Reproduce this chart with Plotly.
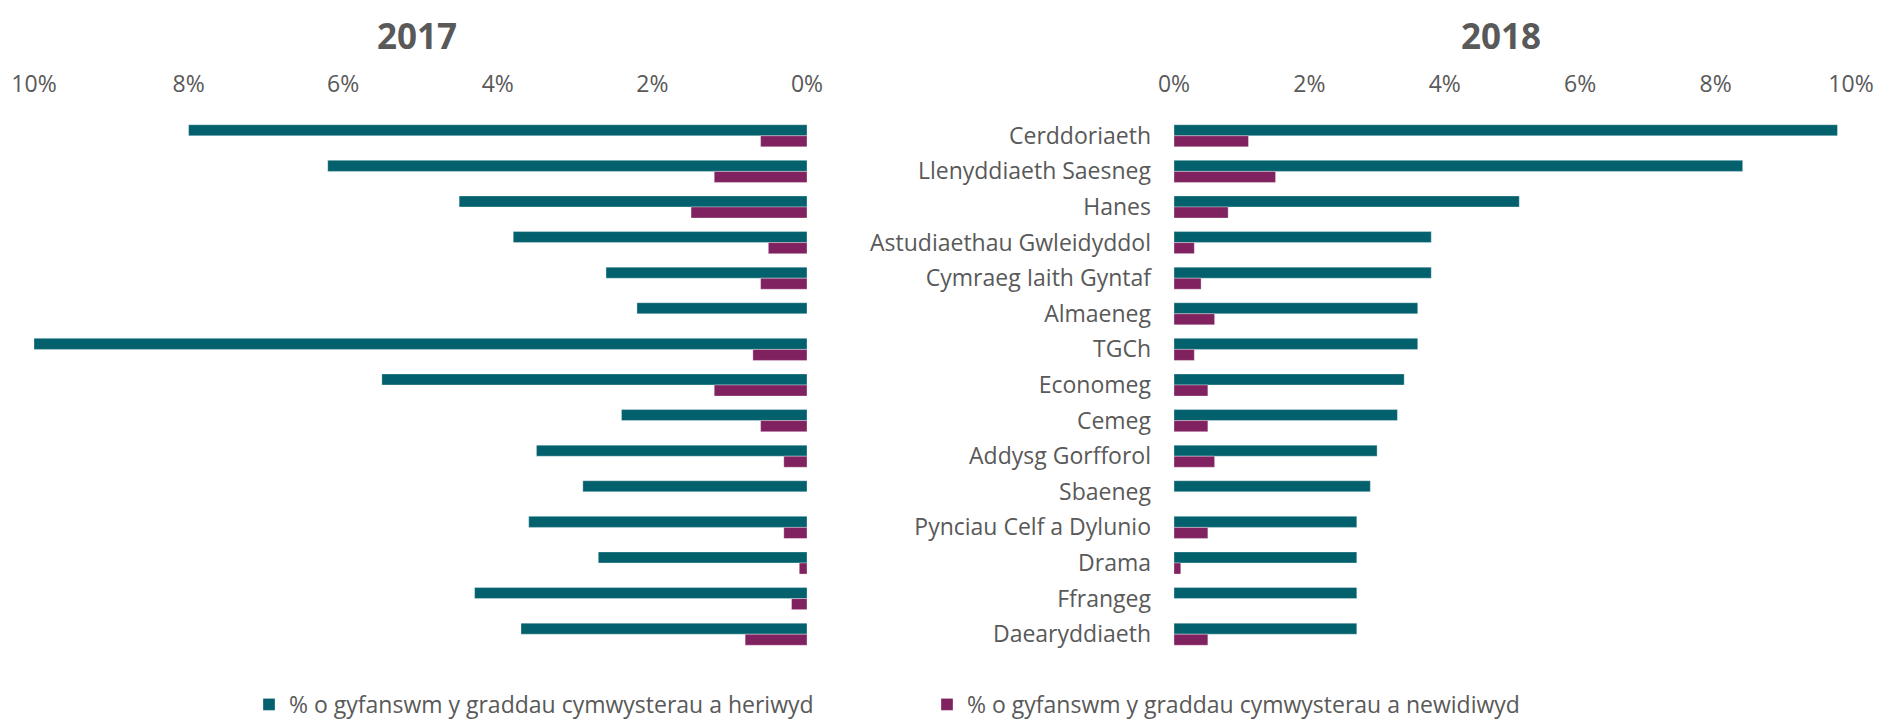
import plotly.graph_objects as go
from plotly.subplots import make_subplots

categories = ["Cerddoriaeth", "Llenyddiaeth Saesneg", "Hanes", "Astudiaethau Gwleidyddol",
              "Cymraeg Iaith Gyntaf", "Almaeneg", "TGCh", "Economeg", "Cemeg",
              "Addysg Gorfforol", "Sbaeneg", "Pynciau Celf a Dylunio", "Drama",
              "Ffrangeg", "Daearyddiaeth"]

challenged_2017 = [8.0, 6.2, 4.5, 3.8, 2.6, 2.2, 10.0, 5.5, 2.4, 3.5, 2.9, 3.6, 2.7, 4.3, 3.7]
changed_2017 = [0.6, 1.2, 1.5, 0.5, 0.6, 0.0, 0.7, 1.2, 0.6, 0.3, 0.0, 0.3, 0.1, 0.2, 0.8]

challenged_2018 = [9.8, 8.4, 5.1, 3.8, 3.8, 3.6, 3.6, 3.4, 3.3, 3.0, 2.9, 2.7, 2.7, 2.7, 2.7]
changed_2018 = [1.1, 1.5, 0.8, 0.3, 0.4, 0.6, 0.3, 0.5, 0.5, 0.6, 0.0, 0.5, 0.1, 0.0, 0.5]

series_names = ["% o gyfanswm y graddau cymwysterau a heriwyd",
                "% o gyfanswm y graddau cymwysterau a newidiwyd"]
titles = ["2017", "2018"]
tick_vals = [0, 2, 4, 6, 8, 10]
tick_text = ["0%", "2%", "4%", "6%", "8%", "10%"]

TEAL = "#03616E"
PURPLE = "#80225F"
GREY = "#595959"
FONT = "Open Sans"

# page body has an 8px margin; figure is sized to fill the rest of the window
W, H = 1889, 715

fig = make_subplots(rows=1, cols=2, horizontal_spacing=0.05)

line = dict(color="rgba(255,255,255,0.55)", width=0.6)
fig.add_trace(go.Bar(y=categories, x=challenged_2017, orientation="h", marker_color=TEAL,
                     marker_line=line, name=series_names[0], legendgroup="a",
                     showlegend=True), row=1, col=1)
fig.add_trace(go.Bar(y=categories, x=changed_2017, orientation="h", marker_color=PURPLE,
                     marker_line=line, name=series_names[1], legendgroup="b",
                     showlegend=True), row=1, col=1)
fig.add_trace(go.Bar(y=categories, x=challenged_2018, orientation="h", marker_color=TEAL,
                     marker_line=line, name=series_names[0], legendgroup="a",
                     showlegend=False), row=1, col=2)
fig.add_trace(go.Bar(y=categories, x=changed_2018, orientation="h", marker_color=PURPLE,
                     marker_line=line, name=series_names[1], legendgroup="b",
                     showlegend=False), row=1, col=2)

left_dom = [26 / W, 799 / W]
right_dom = [1166 / W, 1843 / W]

axis_common = dict(tickvals=tick_vals, ticktext=tick_text, side="top", showgrid=False,
                   zeroline=False, showline=False, ticks="", ticklabelstandoff=20,
                   automargin=False,
                   tickfont=dict(family=FONT, size=23, color=GREY))
fig.update_xaxes(range=[10, 0], domain=left_dom, row=1, col=1, **axis_common)
fig.update_xaxes(range=[0, 10], domain=right_dom, row=1, col=2, **axis_common)

fig.update_yaxes(autorange="reversed", showgrid=False, zeroline=False, showline=False,
                 ticks="", automargin=False)
fig.update_yaxes(showticklabels=False, row=1, col=1)
fig.update_yaxes(showticklabels=True, ticklabelstandoff=22,
                 tickfont=dict(family=FONT, size=23, color=GREY), row=1, col=2)

top, bottom = 110, 644.5
fig.update_layout(
    width=W, height=H,
    margin=dict(l=0, r=0, t=top, b=H - bottom, pad=0, autoexpand=False),
    barmode="group", bargap=0.38, bargroupgap=0,
    plot_bgcolor="white", paper_bgcolor="white",
    font=dict(family=FONT, color=GREY),
    legend=dict(orientation="h", x=241 / W, xanchor="left",
                y=(bottom - 697) / (bottom - top), yanchor="middle",
                font=dict(family=FONT, size=23, color=GREY),
                entrywidth=633, entrywidthmode="pixels", traceorder="normal"),
)

for t, cx in zip(titles, [409, 1493]):
    fig.add_annotation(text="<b>%s</b>" % t, x=cx / W, xref="paper",
                       y=(bottom - 27) / (bottom - top),
                       yref="paper", yanchor="middle", xanchor="center", showarrow=False,
                       font=dict(family=FONT, size=35, color=GREY))

fig.write_html("out.html")
